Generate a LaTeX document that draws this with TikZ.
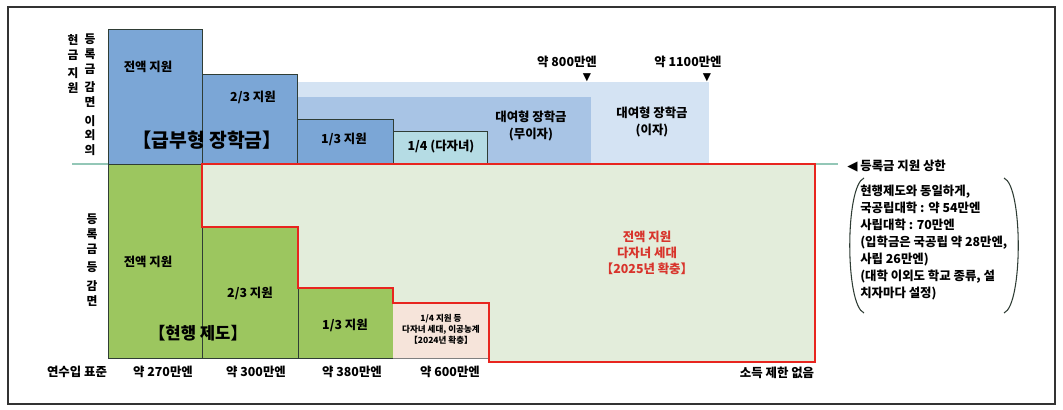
\documentclass[tikz,border=0pt]{standalone}
\usepackage{fontspec}
\newfontfamily\kr{Noto Sans CJK KR}
\newfontfamily\dv{DejaVu Sans}
\definecolor{blueA}{HTML}{7BA6D6}
\definecolor{bandL}{HTML}{D4E3F3}
\definecolor{bandM}{HTML}{A8C4E5}
\definecolor{cyanA}{HTML}{B5DCE4}
\definecolor{greenA}{HTML}{9CC65F}
\definecolor{greenL}{HTML}{E3EDDB}
\definecolor{peach}{HTML}{F6E4DA}
\definecolor{redA}{HTML}{E8251F}
\definecolor{redT}{HTML}{D8342C}
\definecolor{tealL}{HTML}{93C7B7}
\definecolor{edgeC}{HTML}{2F3D35}
\definecolor{frameC}{HTML}{333333}
\tikzset{
  boxst/.style={draw=edgeC, line width=0.7pt},
  lbl/.style={font=\kr\bfseries\fontsize{9.3}{11}\selectfont, inner sep=0pt, text=black},
  small/.style={font=\kr\bfseries\fontsize{6.4}{8.2}\selectfont, inner sep=0pt, align=center},
  vert/.style={font=\kr\bfseries\fontsize{8.8}{11}\selectfont, inner sep=0pt, align=center},
  redline/.style={draw=redA, line width=1.6pt, line join=miter},
  tri/.style={font=\dv\fontsize{8}{8}\selectfont, inner sep=0pt},
}
\begin{document}
\begin{tikzpicture}[x=0.75pt,y=-0.75pt]
\useasboundingbox (0,0) rectangle (1063,410);
% frame
\draw[frameC, line width=1.5pt] (8,7) rectangle (1055,404);
% bands
\fill[bandL] (297,82) rectangle (709,164);
\fill[bandM] (297,97) rectangle (591,164);
% divider
\draw[tealL, line width=0.9pt] (72,164) -- (838,164);
% upper boxes
\draw[boxst, fill=blueA] (108,29) rectangle (202,164);
\draw[boxst, fill=blueA] (202,74) rectangle (297,164);
\draw[boxst, fill=blueA] (297,119) rectangle (393,164);
\draw[boxst, fill=cyanA] (393,131) rectangle (487,164);
% lower region
\fill[greenL] (202,164) -- (815,164) -- (815,362) -- (489,362) -- (489,303) -- (393,303) -- (393,288) -- (298,288) -- (298,227) -- (202,227) -- cycle;
\draw[boxst, fill=greenA] (108,164) rectangle (202,358);
\draw[boxst, fill=greenA] (202,227) rectangle (298,358);
\draw[boxst, fill=greenA] (298,288) rectangle (393,358);
\fill[peach] (393,303) rectangle (489,358);
\draw[gray, line width=0.5pt] (393,358) -- (489,358);
\draw[redline] (202,164) -- (815,164) -- (815,362) -- (489,362) -- (489,303) -- (393,303) -- (393,288) -- (298,288) -- (298,227) -- (202,227) -- cycle;

% vertical labels
\node[vert] (v1) at (90,95) {등\\록\\금\\[3pt]감\\면\\[3pt]이\\외\\의};
\node[vert] (v2) at (73,64) {현\\금\\[3pt]지\\원};
\node[vert] (v3) at (92,260) {등\\록\\금\\[3pt]등\\[3pt]감\\면};

% upper texts
\node[lbl] (u1) at (148,67) {전액 지원};
\node[lbl] (u2) at (253,97) {2/3 지원};
\node[lbl, font=\kr\bfseries\fontsize{14.5}{16}\selectfont] (ut) at (207,140) {【급부형 장학금】};
\node[lbl] (u3) at (344,139) {1/3 지원};
\node[lbl] (u4) at (441,147) {1/4 (다자녀)};
\node[lbl, align=center, font=\kr\bfseries\fontsize{9.3}{13}\selectfont] (u5) at (531,126) {대여형 장학금\\(무이자)};
\node[lbl, align=center, font=\kr\bfseries\fontsize{9.3}{13}\selectfont] (u6) at (652,122) {대여형 장학금\\(이자)};
\node[lbl] (m1) at (567,62) {약 800만엔};
\node[tri] (t1) at (587,78) {▼};
\node[lbl] (m2) at (688,62) {약 1100만엔};
\node[tri] (t2) at (707,78) {▼};

% lower texts
\node[lbl] (g1) at (148,262) {전액 지원};
\node[lbl] (g2) at (250,293) {2/3 지원};
\node[lbl] (g3) at (345,325) {1/3 지원};
\node[lbl, font=\kr\bfseries\fontsize{12.5}{14}\selectfont] (gt) at (198,333) {【현행 제도】};
\node[small] (p1) at (441,329) {1/4 지원 등\\다자녀 세대, 이공농계\\【2024년 확충】};
\node[lbl, align=center, text=redT, font=\kr\bfseries\fontsize{9.3}{12}\selectfont] (r1) at (647,253) {전액 지원\\다자녀 세대\\【2025년 확충】};

% axis labels
\node[lbl] (a0) at (77,372) {연수입 표준};
\node[lbl] (a1) at (163,372) {약 270만엔};
\node[lbl] (a2) at (256,372) {약 300만엔};
\node[lbl] (a3) at (352,372) {약 380만엔};
\node[lbl] (a4) at (450,372) {약 600만엔};
\node[lbl] (a5) at (777,373) {소득 제한 없음};

% right notes
\node[lbl, anchor=west] (cap) at (847,166) {{\dv\fontsize{10}{10}\selectfont ◀} 등록금 지원 상한};
\node[lbl, anchor=north west, align=left, font=\kr\bfseries\fontsize{9.3}{12.75}\selectfont] (note) at (860,185) {현행제도와 동일하게,\\국공립대학 : 약 54만엔\\사립대학 : 70만엔\\(입학금은 국공립 약 28만엔,\\사립 26만엔)\\(대학 이외도 학교 종류, 설\\치자마다 설정)};
\draw[edgeC, line width=0.8pt] (864,178) .. controls (845,186) and (845,305) .. (864,313);
\draw[edgeC, line width=0.8pt] (1004,178) .. controls (1023,186) and (1023,305) .. (1004,313);
\end{tikzpicture}
\end{document}
